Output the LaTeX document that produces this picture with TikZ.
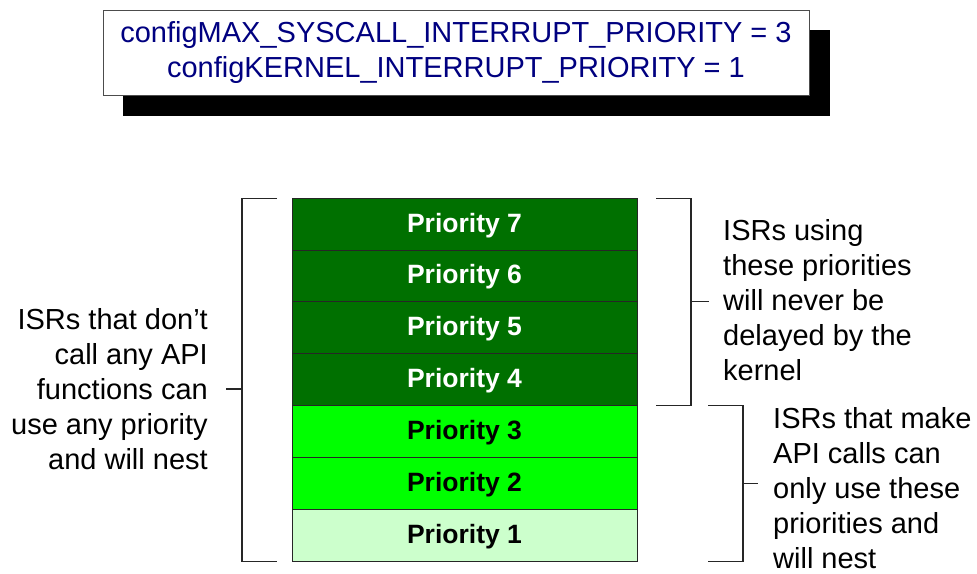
\documentclass[tikz,border=0pt]{standalone}
\usepackage{fontspec}
\setmainfont{Liberation Sans}
\usetikzlibrary{backgrounds,positioning,calc}
\definecolor{darkgr}{RGB}{0,112,0}
\definecolor{brightgr}{RGB}{0,255,0}
\definecolor{lightgr}{RGB}{204,255,204}
\definecolor{navy}{RGB}{0,0,128}
\tikzset{
  prow/.style={draw=black!85, line width=0.8pt, minimum width=345pt, minimum height=51.9pt, inner sep=0pt, outer sep=0pt, text height=19pt, text depth=3pt, font=\fontsize{26.5}{32}\selectfont\bfseries},
  hiprow/.style={prow, fill=darkgr, text=white},
  midrow/.style={prow, fill=brightgr, text=black},
  lowrow/.style={prow, fill=lightgr, text=black},
  note/.style={inner sep=0pt, font=\fontsize{29}{35}\selectfont, text=black},
  brk/.style={draw=black!85, line width=1.1pt},
  cfgbox/.style={draw=black!70, line width=0.8pt, fill=white, minimum width=706pt, minimum height=85pt, inner sep=0pt, align=center, text=navy, font=\fontsize{29}{35}\selectfont}
}
\begin{document}
\begin{tikzpicture}[x=1pt,y=-1pt]
\useasboundingbox (0,0) rectangle (977,573);
% config box with shadow
\node[cfgbox] (cfg) at (456,52.5) {configMAX\_SYSCALL\_INTERRUPT\_PRIORITY = 3\\configKERNEL\_INTERRUPT\_PRIORITY = 1};
\begin{scope}[on background layer]
  \fill[black] ([shift={(20,20)}]cfg.north west) rectangle ([shift={(21,21)}]cfg.south east);
\end{scope}
% priority stack
\node[hiprow] (p7) at (464.5,224) {Priority 7};
\node[hiprow, below=0pt of p7] (p6) {Priority 6};
\node[hiprow, below=0pt of p6] (p5) {Priority 5};
\node[hiprow, below=0pt of p5] (p4) {Priority 4};
\node[midrow, below=0pt of p4] (p3) {Priority 3};
\node[midrow, below=0pt of p3] (p2) {Priority 2};
\node[lowrow, below=0pt of p2] (p1) {Priority 1};
% notes
\node[note, align=right, anchor=east] (lnote) at (208,389) {ISRs that don’t\\call any API\\functions can\\use any priority\\and will nest};
\node[note, align=left, anchor=west] (rnote1) at (723,300) {ISRs using\\these priorities\\will never be\\delayed by the\\kernel};
\node[note, align=left, anchor=west] (rnote2) at (773,488) {ISRs that make\\API calls can\\only use these\\priorities and\\will nest};
% left bracket
\coordinate (lt) at ([xshift=-15pt]p7.north west);
\coordinate (lb) at ([xshift=-15pt]p1.south west);
\draw[brk] (lt) -- ++(-35,0) coordinate (lv) |- (lb);
\draw[brk] (lv |- lnote.east) -- ++(-16,0);
% right bracket 1
\coordinate (r1t) at ([xshift=19pt]p7.north east);
\coordinate (r1b) at ([xshift=19pt]p4.south east);
\draw[brk] (r1t) -- ++(35,0) coordinate (r1v) |- (r1b);
\draw[brk] ($(r1v)!0.5!(r1v |- r1b)$) -- ++(18,0);
% right bracket 2
\coordinate (r2t) at ([xshift=71pt]p3.north east);
\coordinate (r2b) at ([xshift=71pt]p1.south east);
\draw[brk] (r2t) -- ++(35,0) coordinate (r2v) |- (r2b);
\draw[brk] ($(r2v)!0.5!(r2v |- r2b)$) -- ++(15,0);
\end{tikzpicture}
\end{document}
